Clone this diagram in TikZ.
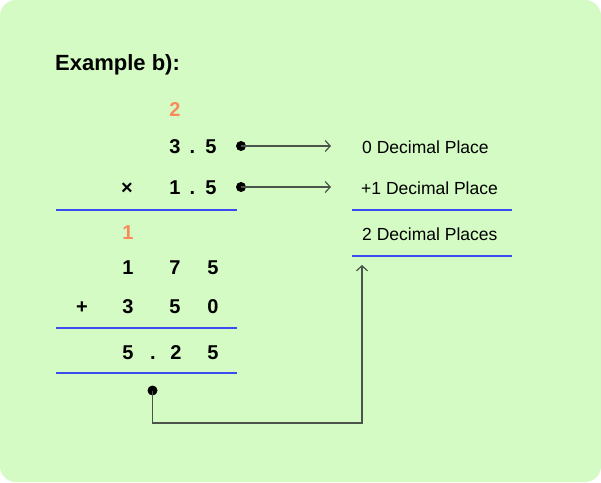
\documentclass[tikz,border=0pt]{standalone}
\usepackage{fontspec}
\setmainfont{Liberation Sans}
\usetikzlibrary{arrows.meta}
\definecolor{bg}{HTML}{D3FBC3}
\definecolor{carry}{HTML}{FA8A5C}
\definecolor{rule}{HTML}{3A4CF0}
\definecolor{conn}{HTML}{4A544A}
\tikzset{
  dig/.style={inner sep=0pt, anchor=base, font=\fontsize{20}{20}\selectfont\bfseries, text=black},
  cdig/.style={dig, text=carry},
  lbl/.style={inner sep=0pt, anchor=base west, font=\fontsize{17.5}{17.5}\selectfont},
  sumline/.style={draw=rule, line width=2pt},
  pin/.style={circle, fill=black, inner sep=0pt, minimum size=10pt},
  link/.style={draw=conn, line width=1.3pt, -{Straight Barb[length=5pt,width=11pt,line width=1.2pt]}},
}
\begin{document}
\begin{tikzpicture}[x=1pt,y=-1pt]
\useasboundingbox (0,0) rectangle (601,482);
\fill[white] (0,0) rectangle (601,482);
\fill[bg, rounded corners=16pt] (0,0) rectangle (601,482);

\node[inner sep=0pt, anchor=base west, font=\fontsize{22}{22}\selectfont\bfseries] (title) at (55,70) {Example b):};

% carries and first factor
\node[cdig] (c2) at (175,116.5) {2};
\node[dig] (a3) at (175,153) {3};
\node[dig] (ap) at (192.5,153) {.};
\node[dig] (a5) at (211,153) {5};
\node[dig] (mul) at (127,194) {×};
\node[dig] (b1) at (175,194) {1};
\node[dig] (bp) at (192.5,194) {.};
\node[dig] (b5) at (211,194) {5};
\coordinate (l1a) at (56,210);
\coordinate (l1b) at (237,210);
\draw[sumline] (l1a) -- (l1b);

\node[cdig] (c1) at (128,239.5) {1};
\node[dig] (p1) at (128,274) {1};
\node[dig] (p7) at (175,274) {7};
\node[dig] (p5) at (213,274) {5};
\node[dig] (plus) at (82,313) {+};
\node[dig] (q3) at (128,313) {3};
\node[dig] (q5) at (175,313) {5};
\node[dig] (q0) at (213,313) {0};
\coordinate (l2a) at (56,328);
\coordinate (l2b) at (237,328);
\draw[sumline] (l2a) -- (l2b);

\node[dig] (r5) at (128,359.5) {5};
\node[dig] (rp) at (153,359.5) {.};
\node[dig] (r2) at (176,359.5) {2};
\node[dig] (r5b) at (213,359.5) {5};
\coordinate (l3a) at (56,373);
\coordinate (l3b) at (237,373);
\draw[sumline] (l3a) -- (l3b);

% right labels
\node[lbl] (t0) at (362,153) {0 Decimal Place};
\node[lbl] (t1) at (361,194.5) {+1 Decimal Place};
\draw[sumline] (352,210) coordinate (m1a) -- (512,210) coordinate (m1b);
\node[lbl] (t2) at (362,240.5) {2 Decimal Places};
\draw[sumline] (352,256) coordinate (m2a) -- (512,256) coordinate (m2b);

% connectors
\node[pin] (d1) at (241,146) {};
\node[pin] (d2) at (241,187) {};
\node[pin] (d3) at (152.5,390.5) {};
\coordinate (e1) at (331,146);
\coordinate (e2) at (331,187);
\coordinate (e3) at (362,265);
\draw[link] (d1.center) -- (e1);
\draw[link] (d2.center) -- (e2);
\draw[link] (d3.center) |- (362,423) -- (e3);
\end{tikzpicture}
\end{document}
